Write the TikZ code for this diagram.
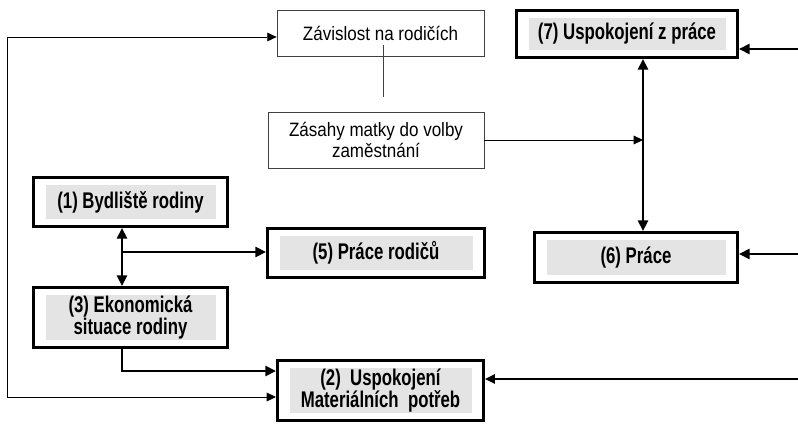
\documentclass[tikz,border=0pt]{standalone}
\usepackage{fontspec}
\setmainfont{Liberation Sans}
\newfontfamily\factorfont[FakeStretch=0.74]{Liberation Sans Bold}
\newfontfamily\notefont[FakeStretch=0.88]{Liberation Sans}
\usetikzlibrary{arrows.meta}
\definecolor{boxgray}{HTML}{E4E4E4}
\tikzstyle{factor}=[draw, line width=2.2pt, inner sep=0pt, align=center,
  font=\factorfont\fontsize{17}{16.8}\selectfont,
  path picture={\fill[boxgray] ([shift={(9pt,5.5pt)}]path picture bounding box.south west)
    rectangle ([shift={(-9pt,-5.5pt)}]path picture bounding box.north east);}]
\tikzstyle{note}=[draw=black!75, line width=0.6pt, inner sep=0pt, align=center,
  font=\notefont\fontsize{14.5}{16.3}\selectfont]
\tikzstyle{link}=[line width=0.6pt, -{Triangle[length=7pt,width=6.5pt]}]
\tikzstyle{heavy}=[line width=2.2pt, -{Triangle[length=8pt,width=7.5pt]}]

\begin{document}
\begin{tikzpicture}[x=0.75pt, y=-0.75pt]
	\useasboundingbox (0,0) rectangle (798,424);

	% family side
	\node[factor, minimum width=145.5pt, minimum height=36.75pt] (b1) at (130.5,202) {(1) Bydliště rodiny};
	\node[factor, minimum width=145.5pt, minimum height=45pt] (e3) at (130.5,317.5) {(3) Ekonomická\\situace rodiny};
	\node[factor, minimum width=162.75pt, minimum height=36.75pt] (p5) at (376,253) {(5) Práce rodičů};
	\node[factor, minimum width=154.5pt, minimum height=45pt] (m2) at (380.5,390.5) {(2)\ \ Uspokojení\\Materiálních\ \ potřeb};

	% work side
	\node[factor, minimum width=165.75pt, minimum height=35.25pt] (u7) at (627,34) {(7) Uspokojení z práce};
	\node[factor, minimum width=152.25pt, minimum height=37.5pt] (p6) at (636,257.5) {(6) Práce};

	\node[note, minimum width=155.25pt, minimum height=34.5pt] (zav) at (380.5,33) {Závislost na rodičích};
	\node[note, minimum width=162pt, minimum height=42pt] (zas) at (376,140) {Zásahy matky do volby\\zaměstnání};

	\coordinate (trunk) at (122,252);
	\coordinate (spine) at (643,140);
	\coordinate (zl1) at (383,45);
	\coordinate (zl2) at (383,97);
	\coordinate (r7) at (798,49);
	\coordinate (r6) at (798,254);
	\coordinate (r2) at (798,379);
	\coordinate (m2a) at (276,371);
	\coordinate (m2b) at (276,397);
	\coordinate (back) at (7,37);

	% connectors
	\draw[line width=0.6pt, black!75] (zl1) -- (zl2);
	\draw[link] (zas.east |- spine) -- (spine);
	\draw[heavy, {Triangle[length=8pt,width=7.5pt]}-{Triangle[length=8pt,width=7.5pt]}] (spine |- u7.south) -- (spine |- p6.north);
	\draw[heavy] (r7) -- (r7 -| u7.east);
	\draw[heavy] (r6) -- (r6 -| p6.east);
	\draw[line width=1.5pt, -{Triangle[length=7.5pt,width=7pt]}] (r2) -- (r2 -| m2.east);

	\draw[heavy, {Triangle[length=8pt,width=7.5pt]}-{Triangle[length=8pt,width=7.5pt]}] (trunk |- b1.south) -- (trunk |- e3.north);
	\draw[heavy] (trunk) -- (trunk -| p5.west);
	\draw[heavy] (trunk |- e3.south) |- (m2a);
	\draw[link, {Triangle[length=7pt,width=6.5pt]}-{Triangle[length=7pt,width=6.5pt]}] (m2b) -| (back) -- (back -| zav.west);
\end{tikzpicture}
\end{document}
